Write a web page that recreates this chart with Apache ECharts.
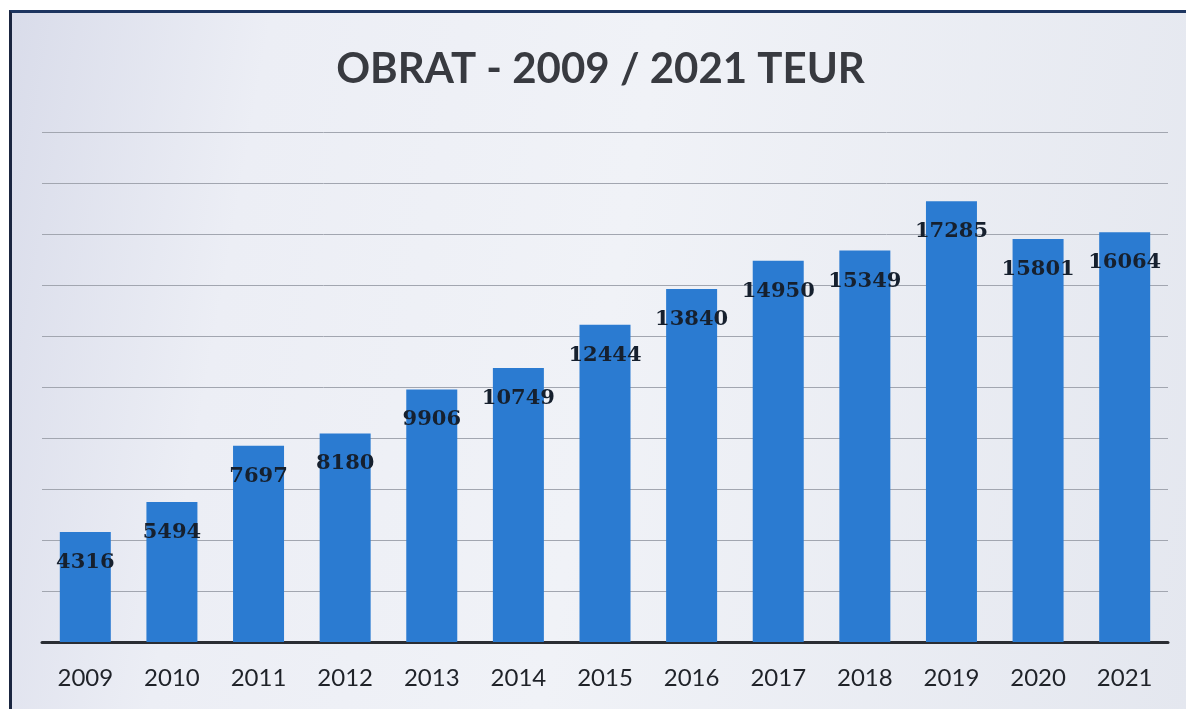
<!DOCTYPE html>
<html>
<head>
<meta charset="utf-8">
<script src="https://cdn.jsdelivr.net/npm/echarts@6/dist/echarts.min.js"></script>
<style>
    html, body { margin: 0; padding: 0; background: #fff; }
    #frame {
        position: absolute; left: 9px; top: 10px; width: 1177px; height: 699px;
        border-top: 3px solid #1d3560; border-left: 3px solid #1a2540;
        background: linear-gradient(100deg, #d9dcea 0%, #eceef5 20%, #f0f2f7 50%, #e4e7ef 100%);
    }
    #chart { position: absolute; left: 0; top: 0; width: 1177px; height: 699px; }
</style>
</head>
<body>
<div id="frame"><div id="chart"></div></div>
<script>
const years = ['2009', '2010', '2011', '2012', '2013', '2014', '2015', '2016', '2017', '2018', '2019', '2020', '2021'];
const obrat = [4316, 5494, 7697, 8180, 9906, 10749, 12444, 13840, 14950, 15349, 17285, 15801, 16064];

let chartDom = document.getElementById('chart');
let myChart = echarts.init(chartDom);
let option;

option = {
    animation: false,
    title: {
        text: 'OBRAT - 2009 / 2021 TEUR',
        left: 'center',
        top: 30,
        textStyle: {
            fontFamily: 'Lato',
            fontWeight: 'bold',
            fontSize: 42,
            color: '#383a40'
        }
    },
    grid: {
        left: 30,
        right: 21,
        top: 119,
        bottom: 70
    },
    xAxis: {
        type: 'category',
        data: years,
        axisTick: { show: false },
        axisLine: { lineStyle: { color: '#2a2d33', width: 3 } },
        axisLabel: {
            margin: 24,
            fontFamily: 'Lato',
            fontSize: 24,
            color: '#1f2228'
        }
    },
    yAxis: {
        type: 'value',
        min: 0,
        max: 20000,
        interval: 2000,
        axisLabel: { show: false },
        axisLine: { show: false },
        axisTick: { show: false },
        splitLine: { lineStyle: { color: '#a2a6b0', width: 1 } }
    },
    series: [
        {
            type: 'bar',
            data: obrat,
            barWidth: 51,
            itemStyle: { color: '#2b7bd1' },
            label: {
                show: true,
                position: 'insideTop',
                distance: 20,
                fontFamily: 'DejaVu Serif',
                fontWeight: 'bold',
                fontSize: 21,
                color: '#16202e'
            }
        }
    ]
};

option && myChart.setOption(option);
</script>
</body>
</html>
